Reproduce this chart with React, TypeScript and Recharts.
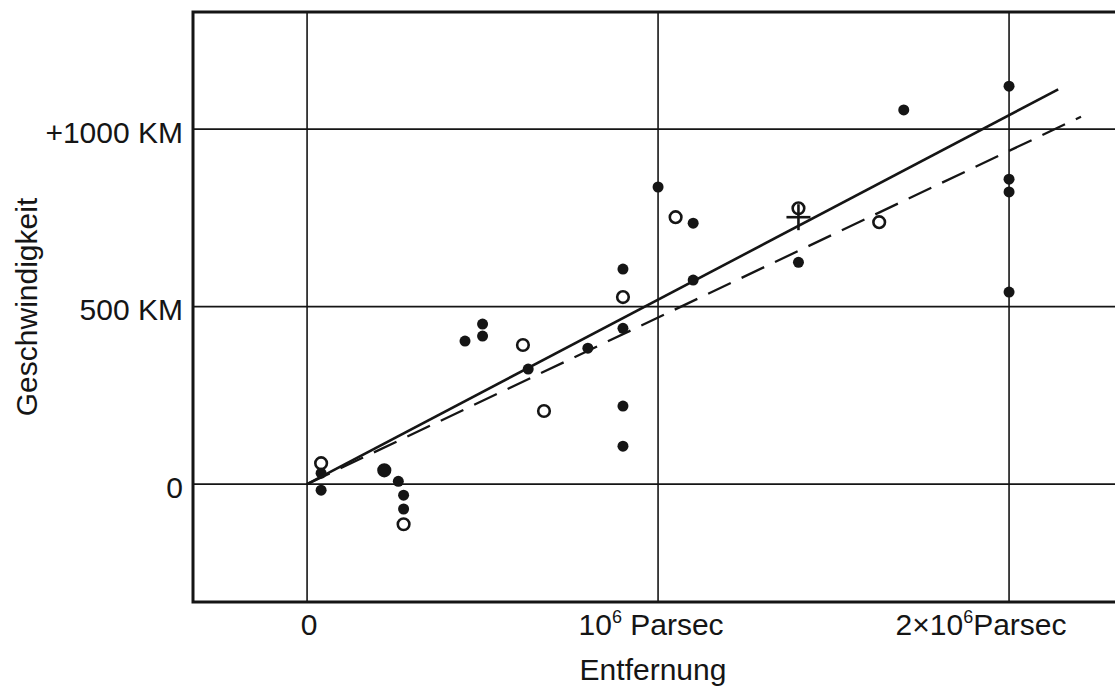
import {
  ComposedChart,
  Scatter,
  XAxis,
  YAxis,
  CartesianGrid,
  ReferenceArea,
} from "recharts";

// distances in 10^6 parsec, velocities in km/s
const filledDist = [
  0.04, 0.04, 0.22, 0.26, 0.275, 0.275, 0.45, 0.5, 0.5, 0.63, 0.8, 0.9, 0.9,
  0.9, 0.9, 1.0, 1.1, 1.1, 1.4, 1.7, 2.0, 2.0, 2.0, 2.0,
];
const filledVel = [
  31, -17, 39, 8, -31, -70, 403, 451, 417, 324, 383, 606, 439, 220, 107, 837,
  735, 575, 625, 1054, 1121, 859, 823, 541,
];
const openDist = [0.04, 0.22, 0.275, 0.615, 0.675, 0.9, 1.05, 1.4, 1.63];
const openVel = [59, 39, -113, 392, 206, 527, 752, 777, 738];
const crossDist = [1.4];
const crossVel = [752];

// the two fitted lines
const solidFitDist = [0, 2.14];
const solidFitVel = [0, 1112];
const dashedFitDist = [0, 2.205];
const dashedFitVel = [0, 1035];

const xTicks = [0, 1, 2];
const xTickLabels = [
  ["0", "", ""],
  ["10", "6", " Parsec"],
  ["2×10", "6", "Parsec"],
];
const xTickShift = [2, -7, -28];
const yTicks = [0, 500, 1000];
const yTickLabels = ["0", "500 KM", "+1000 KM"];

const X_DOMAIN: [number, number] = [-0.325, 2.45];
const Y_DOMAIN: [number, number] = [-332, 1330];

const INK = "#151515";
const FONT = "'Liberation Sans', Arial, Helvetica, sans-serif";

const zip = (xs: number[], ys: number[]) => xs.map((x, i) => ({ x, y: ys[i] }));

const filled = zip(filledDist, filledVel);
const open = zip(openDist, openVel);
const cross = zip(crossDist, crossVel);
const solidFit = zip(solidFitDist, solidFitVel);
const dashedFit = zip(dashedFitDist, dashedFitVel);

function XTick(props: any) {
  const { x, y, payload } = props;
  const i = xTicks.indexOf(payload.value);
  const [base, sup, rest] = xTickLabels[i] ?? [String(payload.value), "", ""];
  return (
    <text
      x={x + (xTickShift[i] ?? 0)}
      y={y}
      dy={25}
      textAnchor="middle"
      fontFamily={FONT}
      fontSize={30}
      fill={INK}
    >
      <tspan>{base}</tspan>
      {sup && (
        <tspan dy={-12} fontSize={18}>
          {sup}
        </tspan>
      )}
      {rest && <tspan dy={12}>{rest}</tspan>}
    </text>
  );
}

function YTick(props: any) {
  const { x, y, payload } = props;
  const i = yTicks.indexOf(payload.value);
  return (
    <text
      x={x - 2}
      y={y}
      dy={13.5}
      textAnchor="end"
      fontFamily={FONT}
      fontSize={30}
      fill={INK}
    >
      {yTickLabels[i]}
    </text>
  );
}

const dot = (p: any) => <circle cx={p.cx} cy={p.cy} r={5.5} fill={INK} />;
const ring = (p: any) => (
  <circle cx={p.cx} cy={p.cy} r={5.8} fill="none" stroke={INK} strokeWidth={2.6} />
);
const plus = (p: any) => (
  <g stroke={INK} strokeWidth={2.6}>
    <line x1={p.cx - 12} y1={p.cy} x2={p.cx + 12} y2={p.cy} />
    <line x1={p.cx} y1={p.cy - 13} x2={p.cx} y2={p.cy + 13} />
  </g>
);
const nothing = () => <g />;

export default function App() {
  return (
    <div
      style={{
        position: "fixed",
        left: 0,
        top: 0,
        width: 1115,
        height: 689,
        overflow: "hidden",
        background: "#fff",
      }}
    >
      <ComposedChart
        width={1180}
        height={689}
        margin={{ top: 12, right: 13, bottom: 57, left: 133 }}
      >
        <CartesianGrid
          stroke={INK}
          strokeWidth={1.6}
          horizontalValues={yTicks}
          verticalValues={xTicks}
        />
        <XAxis
          type="number"
          dataKey="x"
          domain={X_DOMAIN}
          allowDataOverflow
          ticks={xTicks}
          tick={<XTick />}
          tickLine={false}
          axisLine={false}
          height={30}
          label={{
            content: (p: any) => (
              <text
                x={p.viewBox.x + 460}
                y={p.viewBox.y + 78}
                textAnchor="middle"
                fontFamily={FONT}
                fontSize={30}
                fill={INK}
              >
                Entfernung
              </text>
            ),
          }}
        />
        <YAxis
          type="number"
          dataKey="y"
          domain={Y_DOMAIN}
          allowDataOverflow
          ticks={yTicks}
          tick={<YTick />}
          tickLine={false}
          axisLine={false}
          width={60}
          label={{
            content: (p: any) => {
              const cx = p.viewBox.x - 96;
              const cy = p.viewBox.y + p.viewBox.height / 2;
              return (
                <text
                  x={cx}
                  y={cy}
                  transform={`rotate(-90, ${cx}, ${cy})`}
                  textAnchor="middle"
                  fontFamily={FONT}
                  fontSize={30}
                  fill={INK}
                >
                  Geschwindigkeit
                </text>
              );
            },
          }}
        />
        <ReferenceArea
          x1={X_DOMAIN[0]}
          x2={X_DOMAIN[1]}
          y1={Y_DOMAIN[0]}
          y2={Y_DOMAIN[1]}
          fill="none"
          fillOpacity={0}
          stroke={INK}
          strokeWidth={3}
          ifOverflow="visible"
        />
        <Scatter
          data={solidFit}
          line={{ stroke: INK, strokeWidth: 2.6 }}
          lineType="joint"
          shape={nothing}
          isAnimationActive={false}
        />
        <Scatter
          data={dashedFit}
          line={{ stroke: INK, strokeWidth: 2.3, strokeDasharray: "25 12" }}
          lineType="joint"
          shape={nothing}
          isAnimationActive={false}
        />
        <Scatter data={filled} shape={dot} isAnimationActive={false} />
        <Scatter data={open} shape={ring} isAnimationActive={false} />
        <Scatter data={cross} shape={plus} isAnimationActive={false} />
      </ComposedChart>
    </div>
  );
}
